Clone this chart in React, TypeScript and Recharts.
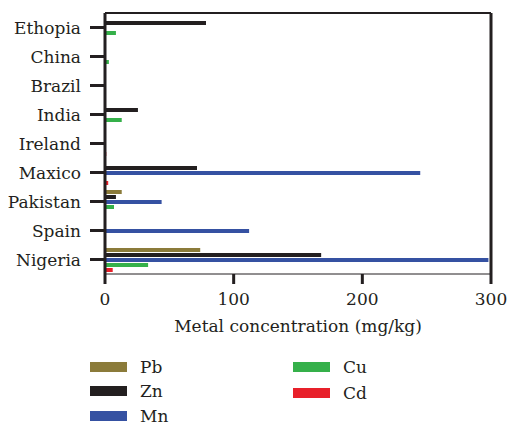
import { BarChart, Bar, XAxis, YAxis } from 'recharts'

const COUNTRIES = ['Ethopia', 'China', 'Brazil', 'India', 'Ireland', 'Maxico', 'Pakistan', 'Spain', 'Nigeria']

const PB = [0, 0, 0, 0, 0, 0, 13, 0, 74]
const ZN = [78.5, 0, 0, 25.6, 0, 71.5, 8.5, 0, 168]
const MN = [0, 0, 0, 0, 0, 245, 44, 112, 298]
const CU = [8.5, 3, 0, 13, 0, 0, 7, 0, 33.5]
const CD = [0, 0, 0, 0, 1, 2.5, 0, 0, 6]

const X_TICKS = [0, 100, 200, 300]

const SERIES = [
  { key: 'Pb', color: '#8b7b3a', values: PB },
  { key: 'Zn', color: '#231f20', values: ZN },
  { key: 'Mn', color: '#3551a2', values: MN },
  { key: 'Cu', color: '#35b04a', values: CU },
  { key: 'Cd', color: '#e8202a', values: CD },
]

const INK = '#231f20'
const FONT = '"DejaVu Serif", serif'
const FS = 17

// legend slots (two columns, like the original figure)
const LEGEND_POS: Record<string, { left: number; top: number }> = {
  Pb: { left: 90, top: 362 },
  Zn: { left: 90, top: 386 },
  Mn: { left: 90, top: 411 },
  Cu: { left: 293, top: 362 },
  Cd: { left: 293, top: 388 },
}

export default function App() {
  const data = COUNTRIES.map((country, i) => {
    const row: Record<string, string | number> = { country }
    SERIES.forEach(s => { row[s.key] = s.values[i] })
    return row
  })

  return (
    <div style={{ position: 'absolute', left: 0, top: 0, width: 507, height: 425, background: '#fff', fontFamily: FONT, overflow: 'hidden' }}>
      <BarChart
        width={507}
        height={425}
        data={data}
        layout="vertical"
        margin={{ top: 12, right: 15, left: 0, bottom: 91 }}
        barSize={4}
        barGap={1}
      >
        <XAxis
          type="number"
          domain={[0, 300]}
          ticks={X_TICKS}
          height={60}
          tickSize={10}
          tickMargin={9}
          axisLine={{ stroke: INK, strokeWidth: 1 }}
          tickLine={{ stroke: INK, strokeWidth: 3 }}
          tick={{ fill: INK, fontSize: FS, fontFamily: FONT }}
          label={{ value: 'Metal concentration (mg/kg)', position: 'insideBottom', offset: 2, fill: INK, fontSize: FS, fontFamily: FONT }}
        />
        <XAxis
          xAxisId="top"
          orientation="top"
          type="number"
          domain={[0, 300]}
          height={1}
          tick={false}
          tickLine={false}
          axisLine={{ stroke: INK, strokeWidth: 2 }}
        />
        <YAxis
          type="category"
          dataKey="country"
          width={105}
          tickSize={15}
          tickMargin={9}
          axisLine={{ stroke: INK, strokeWidth: 3 }}
          tickLine={{ stroke: INK, strokeWidth: 3 }}
          tick={{ fill: INK, fontSize: FS, fontFamily: FONT }}
        />
        <YAxis
          yAxisId="right"
          orientation="right"
          type="category"
          dataKey="country"
          width={1}
          tick={false}
          tickLine={false}
          axisLine={{ stroke: INK, strokeWidth: 3 }}
        />
        {SERIES.map(s => (
          <Bar key={s.key} dataKey={s.key} fill={s.color} isAnimationActive={false} />
        ))}
      </BarChart>

      {SERIES.map(s => (
        <div key={s.key} style={{ position: 'absolute', left: LEGEND_POS[s.key].left, top: LEGEND_POS[s.key].top, display: 'flex', alignItems: 'center', height: 10 }}>
          <div style={{ width: 37, height: 10, background: s.color }} />
          <span style={{ marginLeft: 13, fontSize: FS, color: INK, lineHeight: '10px' }}>{s.key}</span>
        </div>
      ))}
    </div>
  )
}
